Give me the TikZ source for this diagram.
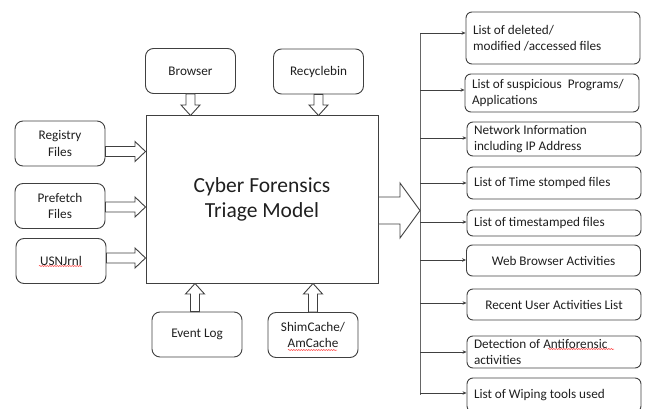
\documentclass[tikz,border=0pt]{standalone}
\usepackage{fontspec}
\setmainfont{Carlito}
\usetikzlibrary{calc,arrows.meta,decorations.pathmorphing}
\definecolor{ink}{HTML}{1F1F1F}
\definecolor{edge}{HTML}{404040}
\newcommand\fatarrow[5]{%
  \coordinate (fa-h) at ($(#2)!#5!(#1)$);
  \draw[fatstyle] ($(#1)!#3!90:(#2)$) -- ($(fa-h)!#3!-90:(#1)$) -- ($(fa-h)!#4!-90:(#1)$)
    -- (#2) -- ($(fa-h)!#4!90:(#1)$) -- ($(fa-h)!#3!90:(#1)$) -- ($(#1)!#3!-90:(#2)$) -- cycle;
}
\begin{document}
\begin{tikzpicture}[x=1pt,y=-1pt,
  font=\fontsize{13.2}{16.5}\selectfont, text=ink,
  inbox/.style={draw=edge, line width=0.9pt, rounded corners=8pt, minimum width=90pt,
    minimum height=45pt, align=center, inner sep=2pt, fill=white},
  mainbox/.style={draw=edge, line width=1pt, minimum width=232pt, minimum height=167pt,
    align=center, font=\fontsize{21.5}{25}\selectfont},
  outbox/.style={draw=edge, line width=0.9pt, rounded corners=6pt, minimum width=174pt,
    text width=160pt, inner xsep=7pt, inner ysep=2pt, align=flush left},
  outboxc/.style={outbox, align=flush center},
  fatstyle/.style={draw=edge, line width=0.9pt, fill=white, line join=miter},
  conn/.style={draw=edge, line width=0.6pt, -{Stealth[length=4pt,width=3.5pt]}},
  bus/.style={draw=edge!80, line width=0.8pt},
  squig/.style={draw=red!75, line width=0.5pt, decorate,
    decoration={snake, segment length=2.5pt, amplitude=0.6pt}}
]
\useasboundingbox (0,0) rectangle (645,409);

% central model
\node[mainbox] (main) at (262,199.5) {Cyber Forensics\\Triage Model};

% inputs
\node[inbox] (brow) at (190.5,71) {Browser};
\node[inbox] (rec) at (318.5,71.5) {Recyclebin};
\node[inbox] (reg) at (60,143.5) {Registry\\Files};
\node[inbox] (pre) at (60,206) {Prefetch\\Files};
\node[inbox] (usn) at (61,261) {USNJrnl};
\node[inbox] (ev) at (197,334.5) {Event Log};
\node[inbox] (shim) at (313,335) {ShimCache/\\AmCache};

% spell-check marks
\draw[squig] (39,266) -- (82,266);
\draw[squig] (288,350) -- (337,350);
\draw[squig] (548,349) -- (614,349);

% input block arrows
\fatarrow{brow.south}{main.north -| brow.south}{4.5pt}{9.5pt}{10.5pt}
\fatarrow{rec.south}{main.north -| rec.south}{4.5pt}{9.5pt}{10.5pt}
\coordinate (ra) at ($(reg.east)+(0,8)$);
\fatarrow{ra}{main.west |- ra}{5pt}{10pt}{10.5pt}
\coordinate (pa) at ($(pre.east)+(0,1)$);
\fatarrow{pa}{main.west |- pa}{5pt}{10pt}{10.5pt}
\coordinate (ua) at ($(usn.east)+(0,-3)$);
\fatarrow{ua}{main.west |- ua}{5pt}{10pt}{10.5pt}
\coordinate (ea) at ($(ev.north)+(-2,0)$);
\fatarrow{ea}{main.south -| ea}{4.5pt}{9.5pt}{10.5pt}
\fatarrow{shim.north}{main.south -| shim.north}{4.5pt}{9.5pt}{10.5pt}

% bus
\coordinate (bt) at (420,33);
\coordinate (bb) at (420,395);
\draw[bus] (bt) -- (bb);

% output block arrow
\coordinate (ma) at ($(main.east)+(0,11)$);
\fatarrow{ma}{bt |- ma}{13.5pt}{27.5pt}{20pt}

% outputs
\node[outbox, minimum height=52pt] (o1) at (553,38) {List of deleted/\\modified /accessed files};
\node[outbox, minimum height=38pt] (o2) at (552,93) {List of suspicious\ \ Programs/\\Applications};
\node[outbox, minimum height=34pt] (o3) at (554,139) {Network Information\\including IP Address};
\node[outbox, minimum height=32pt] (o4) at (554,183) {List of Time stomped files};
\node[outbox, minimum height=26pt] (o5) at (554,223) {List of timestamped files};
\node[outboxc, minimum height=31pt] (o6) at (553.5,260.5) {Web Browser Activities};
\node[outboxc, minimum height=31pt] (o7) at (554,304.5) {Recent User Activities List};
\node[outbox, minimum height=32pt] (o8) at (554,352) {Detection of Antiforensic\\activities};
\node[outbox, minimum height=34pt] (o9) at (554,395) {List of Wiping tools used};

% connectors from bus
\foreach \i/\yy in {1/33, 2/90, 3/138, 4/183, 5/222, 6/260, 7/303, 8/352, 9/393} {
  \coordinate (c\i) at (420,\yy);
  \draw[conn] (c\i) -- (c\i -| o\i.west);
}
\end{tikzpicture}
\end{document}
